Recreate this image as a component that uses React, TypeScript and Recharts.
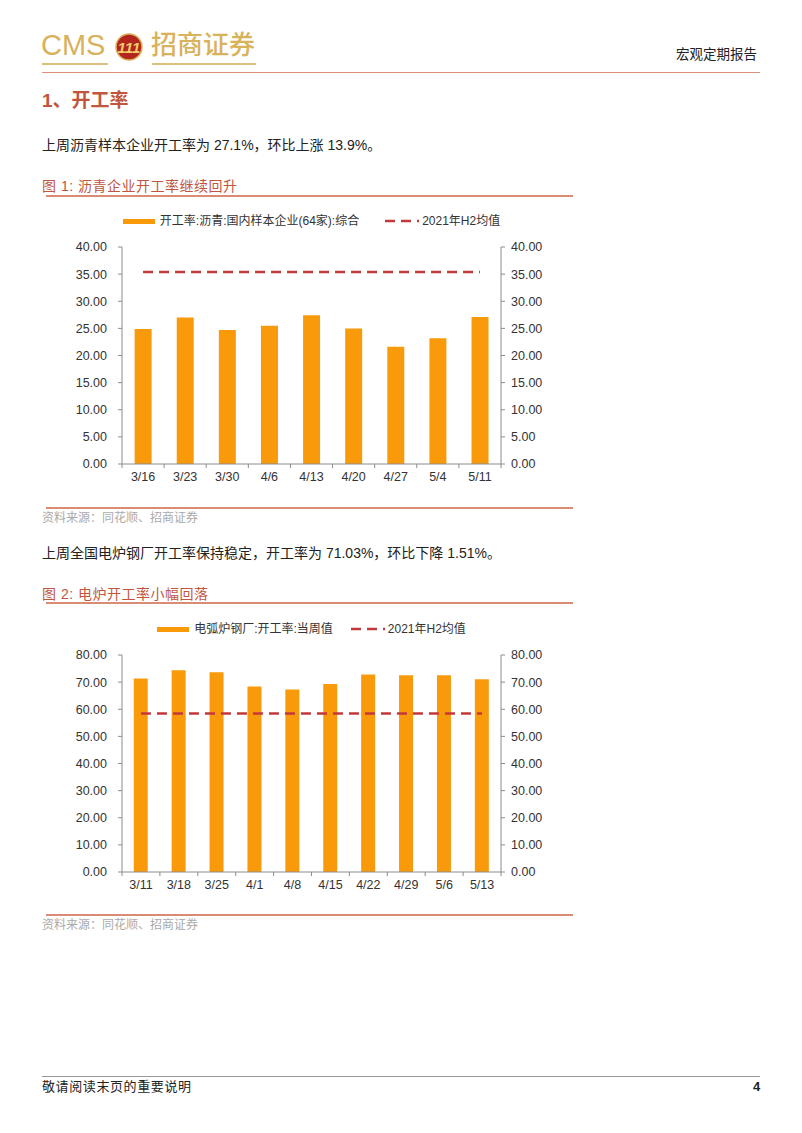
import React from 'react';
import { ComposedChart, Bar, Line, XAxis, YAxis, Legend } from 'recharts';

const FONT = '"Liberation Sans", Arial, "Noto Sans CJK SC", sans-serif';
const ORANGE = '#f99a0b';
const RED_DASH = '#c4383c';
const AXIS = '#8c8c8c';
const TITLE_RED = '#c0563e';
const RULE = '#d98c73';

// chart 1: 沥青
const asphaltDates = ['3/16', '3/23', '3/30', '4/6', '4/13', '4/20', '4/27', '5/4', '5/11'];
const asphaltRate = [24.9, 27.0, 24.7, 25.5, 27.4, 25.0, 21.6, 23.2, 27.1];
const asphaltAvg = 35.4;
const asphaltTicks = [0, 5, 10, 15, 20, 25, 30, 35, 40];

// chart 2: 电炉
const eafDates = ['3/11', '3/18', '3/25', '4/1', '4/8', '4/15', '4/22', '4/29', '5/6', '5/13'];
const eafRate = [71.3, 74.4, 73.6, 68.4, 67.3, 69.3, 72.8, 72.5, 72.54, 71.03];
const eafAvg = 58.4;
const eafTicks = [0, 10, 20, 30, 40, 50, 60, 70, 80];

const CatTick = (props: any) => {
  const { x, y, payload, index, visibleTicksCount, width } = props;
  const band = width / visibleTicksCount;
  const left = x - band / 2;
  return (
    <g>
      <line x1={left} x2={left} y1={y} y2={y + 4} stroke={AXIS} />
      {index === visibleTicksCount - 1 && (
        <line x1={x + band / 2} x2={x + band / 2} y1={y} y2={y + 4} stroke={AXIS} />
      )}
      <text x={x} y={y + 17} textAnchor="middle" fontSize={12.5} fontFamily={FONT} fill="#333">
        {payload.value}
      </text>
    </g>
  );
};

const DashIcon = () => (
  <svg width={34} height={10} style={{ display: 'block' }}>
    <line x1={0} x2={34} y1={5} y2={5} stroke={RED_DASH} strokeWidth={2.5} strokeDasharray="10 6" />
  </svg>
);

const ChartLegend = ({ barName, gap }: { barName: string; gap: number }) => (
  <div
    style={{
      display: 'flex',
      justifyContent: 'center',
      alignItems: 'center',
      fontFamily: FONT,
      fontSize: 12,
      color: '#333',
      whiteSpace: 'nowrap',
      lineHeight: '14px',
    }}
  >
    <div style={{ width: 32, height: 5, background: ORANGE, marginRight: 5 }} />
    <span style={{ marginRight: gap }}>{barName}</span>
    <DashIcon />
    <span style={{ marginLeft: 3 }}>2021年H2均值</span>
  </div>
);

const RateChart = ({
  dates,
  rates,
  avg,
  ticks,
  barName,
  legendGap,
  gapPct,
}: {
  dates: string[];
  rates: number[];
  avg: number;
  ticks: number[];
  barName: string;
  legendGap: number;
  gapPct: string;
}) => {
  const data = dates.map((d, i) => ({ date: d, rate: rates[i], avg }));
  const top = ticks[ticks.length - 1];
  const yTick = { fill: '#333', fontSize: 12.5, fontFamily: FONT };
  return (
    <ComposedChart
      width={560}
      height={300}
      data={data}
      margin={{ top: 47, right: 39, bottom: 6, left: 0 }}
      barCategoryGap={gapPct}
    >
      <Legend
        verticalAlign="middle"
        align="center"
        wrapperStyle={{ top: 14, left: 82, width: 379 }}
        content={() => <ChartLegend barName={barName} gap={legendGap} />}
      />
      <XAxis
        dataKey="date"
        interval={0}
        height={30}
        tickLine={false}
        tickSize={0}
        tickMargin={0}
        axisLine={{ stroke: AXIS }}
        tick={(p: any) => <CatTick {...p} />}
      />
      <YAxis
        yAxisId="left"
        width={82}
        domain={[0, top]}
        ticks={ticks}
        interval={0}
        tickFormatter={(v: number) => v.toFixed(2)}
        axisLine={{ stroke: AXIS }}
        tickLine={{ stroke: AXIS }}
        tickSize={4}
        tickMargin={11}
        tick={yTick}
      />
      <YAxis
        yAxisId="right"
        orientation="right"
        width={60}
        domain={[0, top]}
        ticks={ticks}
        interval={0}
        tickFormatter={(v: number) => v.toFixed(2)}
        axisLine={{ stroke: AXIS }}
        tickLine={{ stroke: AXIS }}
        tickSize={4}
        tickMargin={6}
        tick={yTick}
      />
      <Bar yAxisId="left" dataKey="rate" fill={ORANGE} isAnimationActive={false} />
      <Line
        yAxisId="right"
        dataKey="avg"
        stroke={RED_DASH}
        strokeWidth={2.5}
        strokeDasharray="10 6"
        dot={false}
        activeDot={false}
        isAnimationActive={false}
      />
    </ComposedChart>
  );
};

const abs = (left: number, top: number, extra: React.CSSProperties = {}): React.CSSProperties => ({
  position: 'absolute',
  left,
  top,
  whiteSpace: 'nowrap',
  ...extra,
});

const Rule = ({ top, left, width, color, h }: { top: number; left: number; width: number; color: string; h: number }) => (
  <div style={{ position: 'absolute', left, top, width, height: h, background: color }} />
);

export default function App() {
  const bodyText: React.CSSProperties = { fontFamily: FONT, fontSize: 14, color: '#222', lineHeight: '16px' };
  const figTitle: React.CSSProperties = {
    fontFamily: FONT,
    fontSize: 14,
    color: TITLE_RED,
    lineHeight: '18px',
    letterSpacing: 0.5,
  };
  const source: React.CSSProperties = { fontFamily: FONT, fontSize: 12, color: '#aaaaaa', lineHeight: '14px' };
  return (
    <div
      style={{
        position: 'absolute',
        left: 0,
        top: 0,
        width: 802,
        height: 1133,
        background: '#fff',
        overflow: 'hidden',
      }}
    >
      {/* header */}
      <div style={abs(41, 28, { fontFamily: FONT, fontSize: 29, color: '#d9b25c', lineHeight: '34px' })}>CMS</div>
      <svg style={{ position: 'absolute', left: 115, top: 33 }} width={28} height={28}>
        <circle cx={14} cy={14} r={13} fill="#b3261e" stroke="#d9b25c" strokeWidth={1.5} />
        <text x={14} y={20} textAnchor="middle" fontSize={15} fontStyle="italic" fontWeight="bold" fill="#f2cf6a" fontFamily={FONT}>
          111
        </text>
      </svg>
      <div style={abs(151, 29, { fontFamily: FONT, fontSize: 26, fontWeight: 500, color: '#d9b25c', lineHeight: '32px' })}>
        招商证券
      </div>
      <Rule top={63} left={42} width={66} color="#dcc07e" h={1.5} />
      <Rule top={63} left={152} width={104} color="#dcc07e" h={1.5} />
      <div style={abs(676, 47, { fontFamily: FONT, fontSize: 13.5, color: '#222', lineHeight: '16px' })}>宏观定期报告</div>
      <Rule top={72} left={42} width={718} color="#e0907a" h={1} />

      <div style={abs(42, 90, { fontFamily: FONT, fontSize: 19, fontWeight: 'bold', color: TITLE_RED, lineHeight: '22px' })}>
        1、开工率
      </div>
      <div style={abs(42, 137, bodyText)}>上周沥青样本企业开工率为 27.1%，环比上涨 13.9%。</div>
      <div style={abs(42, 177, figTitle)}>图 1: 沥青企业开工率继续回升</div>
      <Rule top={195} left={46} width={527} color={RULE} h={2} />

      <div style={{ position: 'absolute', left: 40, top: 200 }}>
        <RateChart
          dates={asphaltDates}
          rates={asphaltRate}
          avg={asphaltAvg}
          ticks={asphaltTicks}
          barName="开工率:沥青:国内样本企业(64家):综合"
          legendGap={26}
          gapPct="30%"
        />
      </div>

      <Rule top={507} left={46} width={527} color={RULE} h={2} />
      <div style={abs(42, 511, source)}>资料来源：同花顺、招商证券</div>

      <div style={abs(42, 545, bodyText)}>上周全国电炉钢厂开工率保持稳定，开工率为 71.03%，环比下降 1.51%。</div>
      <div style={abs(42, 585, figTitle)}>图 2: 电炉开工率小幅回落</div>
      <Rule top={602} left={46} width={527} color={RULE} h={2} />

      <div style={{ position: 'absolute', left: 40, top: 608 }}>
        <RateChart
          dates={eafDates}
          rates={eafRate}
          avg={eafAvg}
          ticks={eafTicks}
          barName="电弧炉钢厂:开工率:当周值"
          legendGap={18}
          gapPct="31%"
        />
      </div>

      <Rule top={914} left={46} width={527} color={RULE} h={2} />
      <div style={abs(42, 918, source)}>资料来源：同花顺、招商证券</div>

      {/* footer */}
      <Rule top={1076} left={42} width={718} color="#999" h={1} />
      <div style={abs(42, 1079, { fontFamily: FONT, fontSize: 13, color: '#222', lineHeight: '16px', letterSpacing: 0.6 })}>
        敬请阅读末页的重要说明
      </div>
      <div style={abs(753, 1079, { fontFamily: FONT, fontSize: 13, fontWeight: 'bold', color: '#222', lineHeight: '16px' })}>4</div>
    </div>
  );
}
